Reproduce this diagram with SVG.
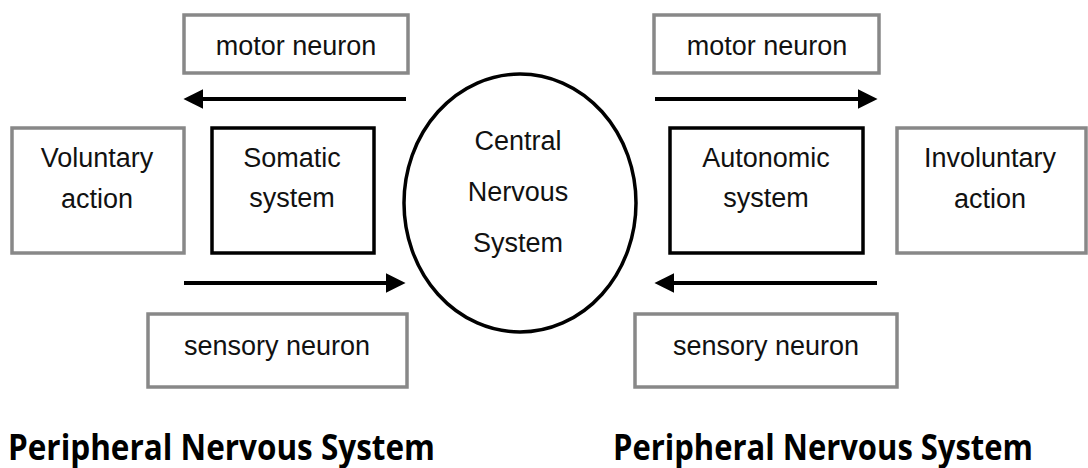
<svg xmlns="http://www.w3.org/2000/svg" width="1088" height="468" viewBox="0 0 1088 468">
<style>
.gray{fill:#fff;stroke:#888;stroke-width:3.5}
.blk{fill:#fff;stroke:#000;stroke-width:3.5}
.t{font-family:"Liberation Sans",Arial,sans-serif;font-size:27px;fill:#111;text-anchor:middle}
.title{font-family:"Open Sans","Noto Sans",sans-serif;font-weight:700;font-size:35px;fill:#000}
.arr{stroke:#000;stroke-width:4;fill:none;marker-end:url(#ah)}
</style>
<defs>
<marker id="ah" markerUnits="userSpaceOnUse" markerWidth="20" markerHeight="20" refX="4" refY="9" orient="auto" viewBox="0 0 18 18">
<path d="M0,0 L18,9 L0,18 z" fill="#000"/>
</marker>
</defs>
<rect width="1088" height="468" fill="#fff"/>
<g id="connectors">
<line class="arr" x1="406" y1="99" x2="199" y2="99"/>
<line class="arr" x1="655" y1="99" x2="862" y2="99"/>
<line class="arr" x1="184" y1="283" x2="390" y2="283"/>
<line class="arr" x1="877" y1="283" x2="670" y2="283"/>
</g>
<g id="motor-left"><rect class="gray" x="184" y="15" width="224" height="58"/><text class="t" x="296" y="55">motor neuron</text></g>
<g id="motor-right"><rect class="gray" x="654" y="15" width="225" height="58"/><text class="t" x="767" y="55">motor neuron</text></g>
<g id="voluntary"><rect class="gray" x="12" y="128" width="172" height="125"/><text class="t" x="97" y="167">Voluntary</text><text class="t" x="97" y="208">action</text></g>
<g id="somatic"><rect class="blk" x="212" y="128" width="162" height="125"/><text class="t" x="292" y="167">Somatic</text><text class="t" x="292" y="207">system</text></g>
<g id="cns"><ellipse cx="520" cy="203" rx="116" ry="129" fill="#fff" stroke="#000" stroke-width="3.5"/><text class="t" x="518" y="150">Central</text><text class="t" x="518" y="201">Nervous</text><text class="t" x="518" y="252">System</text></g>
<g id="autonomic"><rect class="blk" x="670" y="128" width="193" height="125"/><text class="t" x="766" y="167">Autonomic</text><text class="t" x="766" y="207">system</text></g>
<g id="involuntary"><rect class="gray" x="897" y="128" width="189" height="125"/><text class="t" x="990" y="167">Involuntary</text><text class="t" x="990" y="208">action</text></g>
<g id="sensory-left"><rect class="gray" x="148" y="314" width="259" height="73"/><text class="t" x="277" y="355">sensory neuron</text></g>
<g id="sensory-right"><rect class="gray" x="635" y="314" width="262" height="73"/><text class="t" x="766" y="355">sensory neuron</text></g>
<g id="pns-left"><text class="title" x="8" y="460" textLength="427" lengthAdjust="spacingAndGlyphs">Peripheral Nervous System</text></g>
<g id="pns-right"><text class="title" x="613" y="460" textLength="420" lengthAdjust="spacingAndGlyphs">Peripheral Nervous System</text></g>
</svg>
